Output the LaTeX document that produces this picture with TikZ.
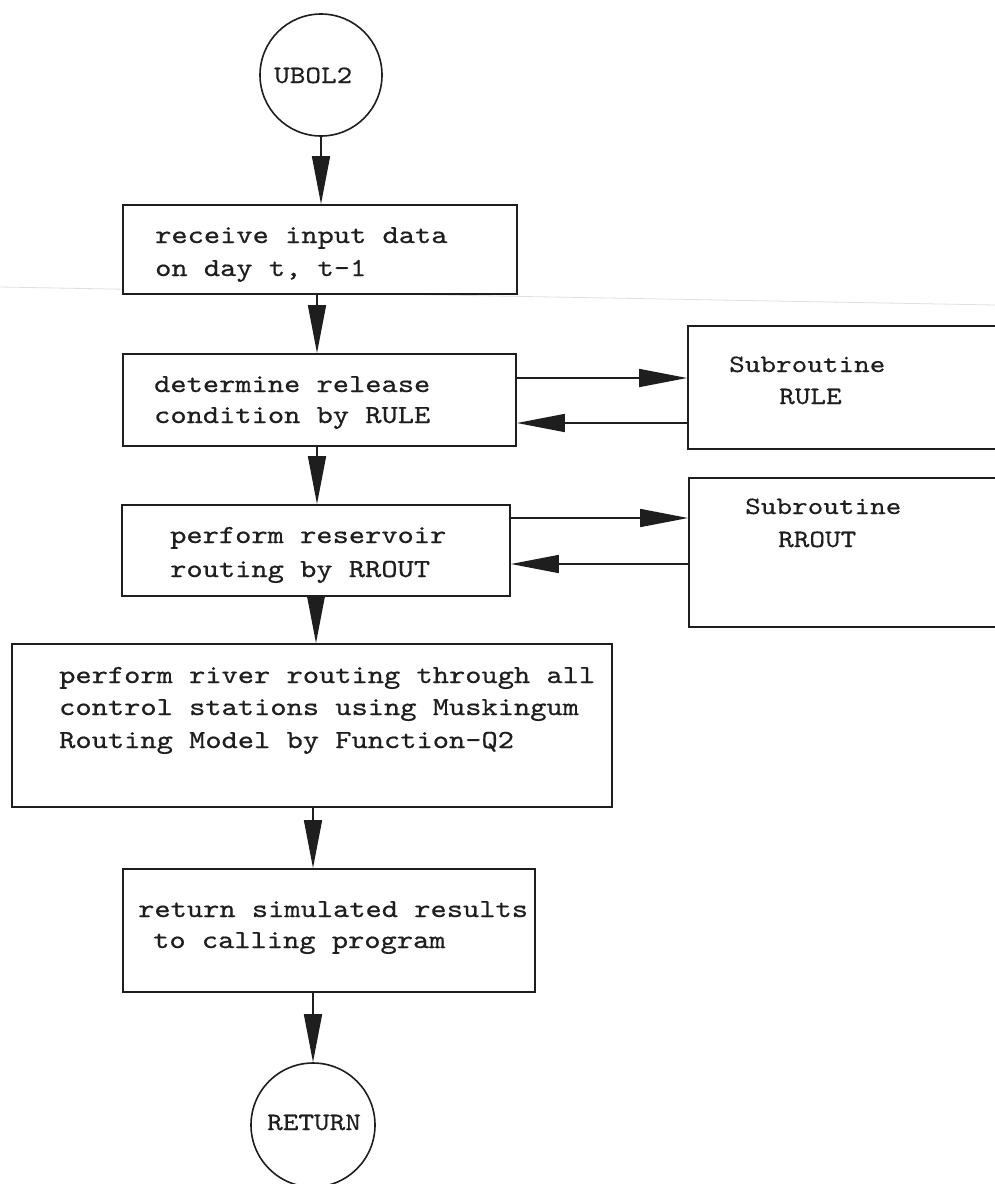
\documentclass[tikz,border=0pt]{standalone}
\usepackage{fontspec}
\usetikzlibrary{arrows.meta,calc}
% typewriter faces, widened to a Courier pitch
\newfontfamily\tw[Extension=.otf, FakeStretch=1.19, FakeBold=0.6]{lmmono10-regular}
\newfontfamily\twl[Extension=.otf, FakeStretch=1.19, FakeBold=0.3]{lmmono10-regular}
\definecolor{ink}{HTML}{1E1E1E}

\begin{document}
\begin{tikzpicture}[x=1pt,y=-1pt,
  frame/.style={draw=ink, line width=1.8pt, fill=white, rectangle, inner sep=0pt},
  term/.style={draw=ink, line width=1.6pt, fill=white, circle, inner sep=0pt, minimum size=#1},
  txt/.style={anchor=base west, inner sep=0pt, text=ink, font=\tw\fontsize{26}{32}\selectfont},
  ctxt/.style={anchor=base west, inner sep=0pt, text=ink, font=\twl\fontsize{25}{30}\selectfont},
  arr/.style={draw=ink, line width=1.6pt, -{Triangle[length=48pt,width=18pt]}},
]
\useasboundingbox (0,0) rectangle (995,1184);
\clip (0,0) rectangle (995,1184);
\fill[white] (0,0) rectangle (995,1184);

% faint crease across the sheet
\draw[black!12, line width=0.8pt] (0,287) -- (995,305);

% terminals
\node[term=122pt] (c1) at (321,75) {};
\node[term=124pt] (c2) at (313,1125) {};

% process boxes
\node[frame, minimum width=394pt, minimum height=89pt]  (b1) at (320,249.5) {};
\node[frame, minimum width=393pt, minimum height=92pt]  (b2) at (319.5,400) {};
\node[frame, minimum width=388pt, minimum height=91pt]  (b3) at (316,550.5) {};
\node[frame, minimum width=600pt, minimum height=163pt] (b4) at (312,725.5) {};
\node[frame, minimum width=412pt, minimum height=123pt] (b5) at (329,930.5) {};

% subroutine boxes (run off the right edge)
\node[frame, minimum width=340pt, minimum height=123pt] (s1) at (858,387.5) {};
\node[frame, minimum width=340pt, minimum height=149pt] (s2) at (859,552.5) {};

% texts
\node[ctxt] (tc1) at (274,83) {UBOL2};
\node[txt] (t1a) at (155,243) {receive input data};
\node[txt] (t1b) at (155,276) {on day t, t-1};
\node[txt] (t2a) at (154,392) {determine release};
\node[txt] (t2b) at (154,423) {condition by RULE};
\node[txt] (t3a) at (170,543) {perform reservoir};
\node[txt] (t3b) at (170,577) {routing by RROUT};
\node[txt] (t4a) at (59,683) {perform river routing through all};
\node[txt] (t4b) at (59,715) {control stations using Muskingum};
\node[txt] (t4c) at (59,748) {Routing Model by Function-Q2};
\node[txt] (t5a) at (138,917) {return simulated results};
\node[txt] (t5b) at (153,948) {to calling program};
\node[ctxt] (ts1a) at (729,372) {Subroutine};
\node[ctxt] (ts1b) at (779,404) {RULE};
\node[ctxt] (ts2a) at (745,514) {Subroutine};
\node[ctxt] (ts2b) at (778,547) {RROUT};
\node[ctxt] (tc2) at (267,1130) {RETURN};

% main flow
\coordinate (sp) at (317,0);
\draw[arr] (c1.south) -- (c1.south |- b1.north);
\draw[arr] (b1.south -| sp) -- (b2.north -| sp);
\draw[arr] (b2.south -| sp) -- (b3.north -| sp);
\draw[arr] ([xshift=-1pt]b3.south -| sp) -- ([xshift=-1pt]b4.north -| sp);
\draw[arr] (b4.south -| c2) -- (b5.north -| c2);
\draw[arr] (b5.south -| c2) -- (c2.north);

% calls to subroutines and returns
\draw[arr] ([yshift=22pt]b2.east) -- ([yshift=22pt]b2.east -| s1.west);
\draw[arr] ([yshift=-23pt]b2.east -| s1.west) -- ([yshift=-23pt]b2.east);
\draw[arr] ([yshift=32.5pt]b3.east) -- ([yshift=32.5pt]b3.east -| s2.west);
\draw[arr] ([yshift=-13.5pt]b3.east -| s2.west) -- ([yshift=-13.5pt]b3.east);
\end{tikzpicture}
\end{document}
